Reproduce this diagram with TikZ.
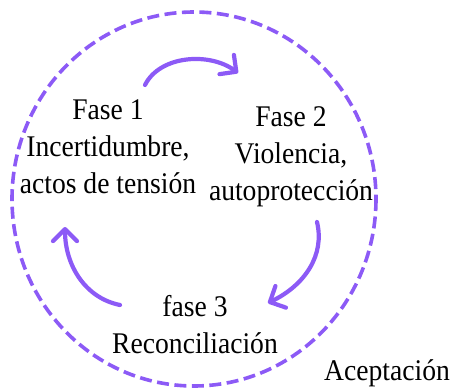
\documentclass[tikz,border=0pt]{standalone}
\usepackage{fontspec}
\setmainfont{Liberation Serif}[FakeStretch=0.92]
\usetikzlibrary{arrows.meta}
\definecolor{vio}{RGB}{140,90,246}
\tikzset{
  lbl/.style={align=center, font=\fontsize{30}{37}\selectfont, inner sep=0pt, anchor=base},
  cyc/.style={draw=vio, line width=4.2pt, line cap=round,
    -{Straight Barb[length=12pt,width=24pt,line cap=round,line join=round]}}
}
\begin{document}
\begin{tikzpicture}[x=1pt,y=-1pt]
\useasboundingbox (0,0) rectangle (451,391);
\draw[vio, line width=3.6pt, dash pattern=on 12pt off 5.5pt] (194,199) ellipse [x radius=182, y radius=187];
\node[lbl] (f1) at (108,193) {Fase 1\\Incertidumbre,\\actos de tensión};
\node[lbl] (f2) at (291,200) {Fase 2\\Violencia,\\autoprotección};
\node[lbl] (f3) at (195,353) {fase 3\\Reconciliación};
\node[lbl] (acc) at (387,380) {Aceptación};
\coordinate (a1s) at (145,85);
\coordinate (a1e) at (238,73);
\coordinate (a2s) at (317,222);
\coordinate (a2e) at (268,303);
\coordinate (a3s) at (120,305);
\coordinate (a3e) at (65,227);
\draw[cyc] (a1s) .. controls (160,55) and (210,52) .. (a1e);
\draw[cyc] (a2s) .. controls (325,255) and (305,285) .. (a2e);
\draw[cyc] (a3s) .. controls (85,298) and (65,265) .. (a3e);
\end{tikzpicture}
\end{document}
